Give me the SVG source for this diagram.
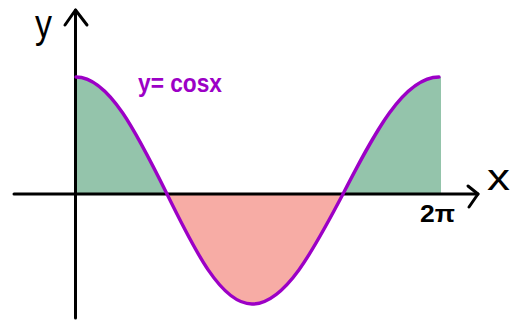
<svg xmlns="http://www.w3.org/2000/svg" width="515" height="322" viewBox="0 0 515 322">
  <style>
    .axis { stroke: #000; stroke-width: 3; fill: none; stroke-linecap: round; stroke-linejoin: round; }
    .curve { stroke: #9c00c6; stroke-width: 3.4; fill: none; stroke-linecap: round; }
    .pos { fill: #94c4ab; }
    .neg { fill: #f7aca5; }
    .lbl { font-family: "Liberation Sans", Arial, sans-serif; fill: #000; }
    .fn { font-family: "Liberation Sans", Arial, sans-serif; font-weight: bold; fill: #9c00c6; }
  </style>
  <g id="fills">
    <path class="pos" d="M76,194 L76,77 C108.9,77 137.3,134.1 167,194 Z"/>
    <path class="neg" d="M167,194 C194.7,250.4 221.2,304 252,304 C284.9,304 313.3,250.4 343,194 Z"/>
    <path class="pos" d="M343,194 C374,134.1 403.6,77 439,77 L441,77 L441,194 Z"/>
  </g>
  <g id="axes">
    <path class="axis" d="M14,194 L478,194"/>
    <path class="axis" d="M468,186 L478,194 L469,207"/>
    <path class="axis" d="M75.5,318 L75.5,10"/>
    <path class="axis" d="M65,25 L75.5,10 L87,25"/>
  </g>
  <g id="curve">
    <path class="curve" d="M76,77 C108.9,77 137.3,134.1 167,194 C194.7,250.4 221.2,304 252,304 C284.9,304 313.3,250.4 343,194 C374,134.1 403.6,77 439,77"/>
  </g>
  <g id="labels">
    <text class="lbl" x="35" y="38" font-size="40" textLength="17" lengthAdjust="spacingAndGlyphs">y</text>
    <text class="lbl" x="487" y="190" font-size="36" textLength="23" lengthAdjust="spacingAndGlyphs">x</text>
    <text class="lbl" x="420" y="222" font-size="23" font-weight="bold" textLength="35" lengthAdjust="spacingAndGlyphs">2π</text>
    <text class="fn" x="138" y="92" font-size="25" textLength="84" lengthAdjust="spacingAndGlyphs">y= cosx</text>
  </g>
</svg>
